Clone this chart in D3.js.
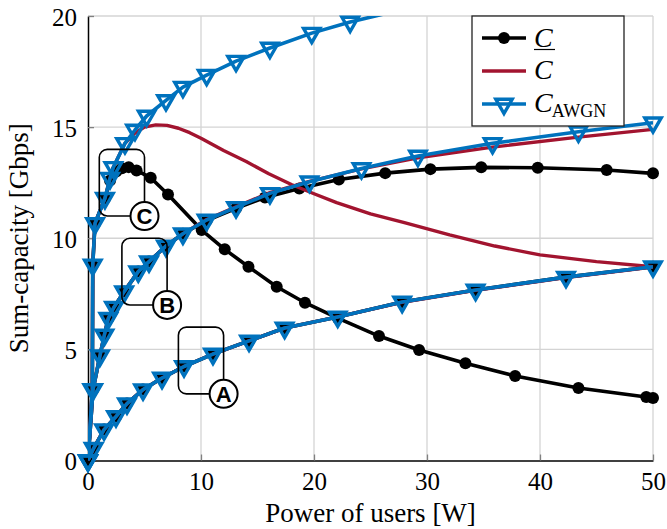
<!DOCTYPE html>
<html>
<head>
<meta charset="utf-8">
<script src="https://cdn.jsdelivr.net/npm/d3@7"></script>
<style>
    body { margin: 0; background: #fff; }
    svg { display: block; }
    text { font-family: "Liberation Serif", "Times New Roman", serif; fill: #000; }
    text.callout { font-family: "Liberation Sans", Arial, sans-serif; font-weight: bold; }
</style>
</head>
<body>
<div id="chart"></div>
<script>
// axis ticks
const xTicks = [0, 10, 20, 30, 40, 50];
const yTicks = [0, 5, 10, 15, 20];

// group A (blue, red and black coincide)
const powA = [0, 0.5, 1.42, 2.48, 3.45, 4.87, 6.55, 8.5, 11.06, 14.25, 17.4, 22.1, 27.8, 34.3, 42.3, 50];
const awgnA = [0, 0.55, 1.39, 1.98, 2.56, 3.19, 3.71, 4.23, 4.79, 5.38, 5.96, 6.46, 7.13, 7.67, 8.25, 8.72];
const capA = [0, 0.55, 1.39, 1.98, 2.56, 3.19, 3.71, 4.23, 4.79, 5.38, 5.96, 6.46, 7.12, 7.66, 8.23, 8.7];
const lowA = [0, 0.55, 1.39, 1.98, 2.56, 3.19, 3.71, 4.23, 4.79, 5.38, 5.96, 6.46, 7.13, 7.67, 8.25, 8.72];

// group B
const powB = [0, 0.45, 1.06, 1.45, 1.8, 2.3, 3.2, 4.45, 5.4, 6.9, 8.4, 10.5, 13.1, 16.1, 19.6, 24.2, 29.2, 35.8, 43.4, 50];
const awgnB = [0, 3.2, 4.72, 5.65, 6.4, 6.9, 7.6, 8.5, 8.95, 9.65, 10.2, 10.82, 11.39, 12.02, 12.54, 13.14, 13.7, 14.27, 14.79, 15.2];
const capB = [0, 3.2, 4.72, 5.65, 6.4, 6.9, 7.6, 8.5, 8.95, 9.65, 10.2, 10.84, 11.42, 12.05, 12.56, 13.12, 13.62, 14.1, 14.55, 14.9];
const powLowB = [0, 0.45, 1.06, 1.45, 1.8, 2.3, 3.2, 4.45, 5.4, 6.9, 8.4, 10.5, 13.1, 15.66, 18.7, 22.2, 26.3, 30.3, 34.8, 39.8, 45.9, 50];
const lowB = [0, 3.2, 4.72, 5.65, 6.4, 6.9, 7.6, 8.5, 8.95, 9.65, 10.2, 10.8, 11.35, 11.83, 12.24, 12.64, 12.93, 13.11, 13.19, 13.17, 13.07, 12.92];

// group C
const powC = [0, 0.38, 0.42, 0.62, 1.5, 1.95, 2.24, 3.27, 4.16, 5.19, 6.9, 8.4, 10.5, 13.1, 16.1, 19.8, 23.2, 27.5];
const awgnC = [0, 3.2, 8.8, 10.67, 11.8, 12.7, 13.19, 14.27, 14.87, 15.5, 16.2, 16.8, 17.34, 17.97, 18.56, 19.23, 19.73, 20.25];
const powCapC = [0, 0.38, 0.42, 0.62, 1.5, 1.95, 2.24, 3.27, 4.2, 5, 6, 7, 8, 9, 10, 12, 14, 16, 18, 20, 22, 25, 28, 32, 36, 40, 45, 50];
const capC = [0, 3.2, 8.8, 10.67, 11.8, 12.7, 13.19, 14.27, 14.75, 15.0, 15.1, 15.08, 14.95, 14.75, 14.5, 13.95, 13.45, 12.9, 12.42, 12.0, 11.6, 11.1, 10.7, 10.15, 9.65, 9.25, 8.95, 8.72];
const powLowC = [0, 0.38, 0.42, 0.62, 1.5, 1.95, 2.5, 3.0, 3.6, 4.3, 5.55, 7.08, 10.06, 12.1, 14.2, 16.7, 19.2, 22.1, 25.75, 29.3, 33.4, 37.8, 43.4, 49.4, 50];
const lowC = [0, 3.2, 8.8, 10.67, 11.8, 12.6, 13.0, 13.15, 13.2, 13.05, 12.72, 11.97, 10.37, 9.5, 8.72, 7.82, 7.1, 6.41, 5.6, 4.97, 4.38, 3.8, 3.26, 2.86, 2.81];

// callout boxes, corners in data units, letter sits on the lower right corner
const notes = [
    {label: "A", x0: 8, x1: 12, y0: 3, y1: 6},
    {label: "B", x0: 3, x1: 7, y0: 7, y1: 10},
    {label: "C", x0: 1, x1: 5, y0: 11, y1: 14}
];

const blue = "#0072BD", red = "#A2142F";

const W = 667, H = 529;
const margin = {top: 16, right: 14, bottom: 68.5, left: 88};
const width = W - margin.left - margin.right;
const height = H - margin.top - margin.bottom;

const svg = d3.select("#chart").append("svg")
    .attr("width", W)
    .attr("height", H);

const g = svg.append("g")
    .attr("transform", "translate(" + margin.left + "," + margin.top + ")");

const x = d3.scaleLinear().domain([0, 50]).range([0, width]);
const y = d3.scaleLinear().domain([0, 20]).range([height, 0]);

svg.append("defs").append("clipPath").attr("id", "plotclip")
    .append("rect").attr("width", width).attr("height", height);

// grid
g.selectAll(".gx").data(xTicks.slice(1)).enter().append("line")
    .attr("x1", d => x(d)).attr("x2", d => x(d))
    .attr("y1", 0).attr("y2", height)
    .attr("stroke", "#d4d4d4").attr("stroke-width", 1.3);
g.selectAll(".gy").data(yTicks.slice(1)).enter().append("line")
    .attr("y1", d => y(d)).attr("y2", d => y(d))
    .attr("x1", 0).attr("x2", width)
    .attr("stroke", "#d4d4d4").attr("stroke-width", 1.3);

// axes
const xAxis = g.append("g").attr("transform", "translate(0," + height + ")")
    .call(d3.axisBottom(x).tickValues(xTicks).tickSizeInner(-6).tickSizeOuter(0).tickPadding(12));
const yAxis = g.append("g")
    .call(d3.axisLeft(y).tickValues(yTicks).tickSizeInner(-6).tickSizeOuter(0).tickPadding(11));
[xAxis, yAxis].forEach(a => {
    a.select(".domain").attr("stroke", "#000").attr("stroke-width", 1.5);
    a.selectAll(".tick line").attr("stroke", "#808080").attr("stroke-width", 1.3);
    a.selectAll(".tick text").attr("font-size", 25)
        .style("font-family", "'Liberation Serif', serif").attr("fill", "#000");
});
xAxis.selectAll(".tick text").attr("dy", "0.71em");
yAxis.selectAll(".tick text").attr("dy", "0.36em");

// axis titles
svg.append("text")
    .attr("x", margin.left + width / 2).attr("y", 522)
    .attr("text-anchor", "middle").attr("font-size", 27)
    .text("Power of users [W]");
svg.append("text")
    .attr("transform", "translate(28," + (margin.top + height / 2) + ") rotate(-90)")
    .attr("text-anchor", "middle").attr("font-size", 27)
    .text("Sum-capacity [Gbps]");

const zip = (xs, ys) => xs.map((v, i) => [v, ys[i]]);

const series = [
    {pts: zip(powA, lowA), color: "#000", w: 3.6, mark: "dot"},
    {pts: zip(powLowB, lowB), color: "#000", w: 3.6, mark: "dot"},
    {pts: zip(powLowC, lowC), color: "#000", w: 3.6, mark: "dot"},
    {pts: zip(powA, capA), color: red, w: 3.4, mark: null},
    {pts: zip(powB, capB), color: red, w: 3.4, mark: null},
    {pts: zip(powCapC, capC), color: red, w: 3.4, mark: null},
    {pts: zip(powA, awgnA), color: blue, w: 3.6, mark: "tri"},
    {pts: zip(powB, awgnB), color: blue, w: 3.6, mark: "tri"},
    {pts: zip(powC, awgnC), color: blue, w: 3.6, mark: "tri"}
];

const line = d3.line().x(d => x(d[0])).y(d => y(d[1]));
const triPath = "M0,9.5L8.2,-4.75L-8.2,-4.75Z";

function drawMarks(sel, mark, color) {
    if (mark === "dot") {
        sel.append("circle").attr("r", 6).attr("fill", color);
    } else if (mark === "tri") {
        sel.append("path").attr("d", triPath)
            .attr("fill", "none").attr("stroke", color).attr("stroke-width", 3.4)
            .attr("stroke-linejoin", "miter");
    }
}

series.forEach(s => {
    g.append("path")
        .datum(s.pts)
        .attr("clip-path", "url(#plotclip)")
        .attr("fill", "none")
        .attr("stroke", s.color)
        .attr("stroke-width", s.w)
        .attr("stroke-linejoin", "round")
        .attr("d", line);
    if (s.mark) {
        const m = g.selectAll(null)
            .data(s.pts.filter(d => d[1] <= 20))
            .enter().append("g")
            .attr("transform", d => "translate(" + x(d[0]) + "," + y(d[1]) + ")");
        drawMarks(m, s.mark, s.color);
    }
});

// callouts
notes.forEach(n => {
    g.append("rect")
        .attr("x", x(n.x0)).attr("y", y(n.y1))
        .attr("width", x(n.x1) - x(n.x0)).attr("height", y(n.y0) - y(n.y1))
        .attr("rx", 8).attr("ry", 8)
        .attr("fill", "none").attr("stroke", "#000").attr("stroke-width", 1.6);
    g.append("circle")
        .attr("cx", x(n.x1)).attr("cy", y(n.y0)).attr("r", 14)
        .attr("fill", "#fff").attr("stroke", "#000").attr("stroke-width", 2);
    g.append("text")
        .attr("class", "callout")
        .attr("x", x(n.x1)).attr("y", y(n.y0) + 8)
        .attr("text-anchor", "middle")
        .attr("font-size", 22)
        .text(n.label);
});

// legend
const leg = svg.append("g").attr("transform", "translate(472,16)");
leg.append("rect").attr("width", 152).attr("height", 110)
    .attr("fill", "#fff").attr("stroke", "#222").attr("stroke-width", 1.3);
const legRows = [
    {color: "#000", mark: "dot", y: 22},
    {color: red, mark: null, y: 55},
    {color: blue, mark: "tri", y: 88}
];
legRows.forEach(r => {
    const row = leg.append("g").attr("transform", "translate(0," + r.y + ")");
    row.append("line").attr("x1", 10).attr("x2", 54)
        .attr("stroke", r.color).attr("stroke-width", 3.6);
    drawMarks(row.append("g").attr("transform", "translate(32,0)"), r.mark, r.color);
});
leg.append("text").attr("x", 62).attr("y", 31).attr("font-size", 28).attr("font-style", "italic").text("C");
leg.append("line").attr("x1", 62).attr("x2", 83).attr("y1", 33.5).attr("y2", 33.5)
    .attr("stroke", "#000").attr("stroke-width", 1.2);
leg.append("text").attr("x", 62).attr("y", 63).attr("font-size", 28).attr("font-style", "italic").text("C");
const t3 = leg.append("text").attr("x", 62).attr("y", 96).attr("font-size", 28);
t3.append("tspan").attr("font-style", "italic").text("C");
t3.append("tspan").attr("font-size", 18).attr("dy", 5).attr("dx", -1).text("AWGN");
</script>
</body>
</html>
